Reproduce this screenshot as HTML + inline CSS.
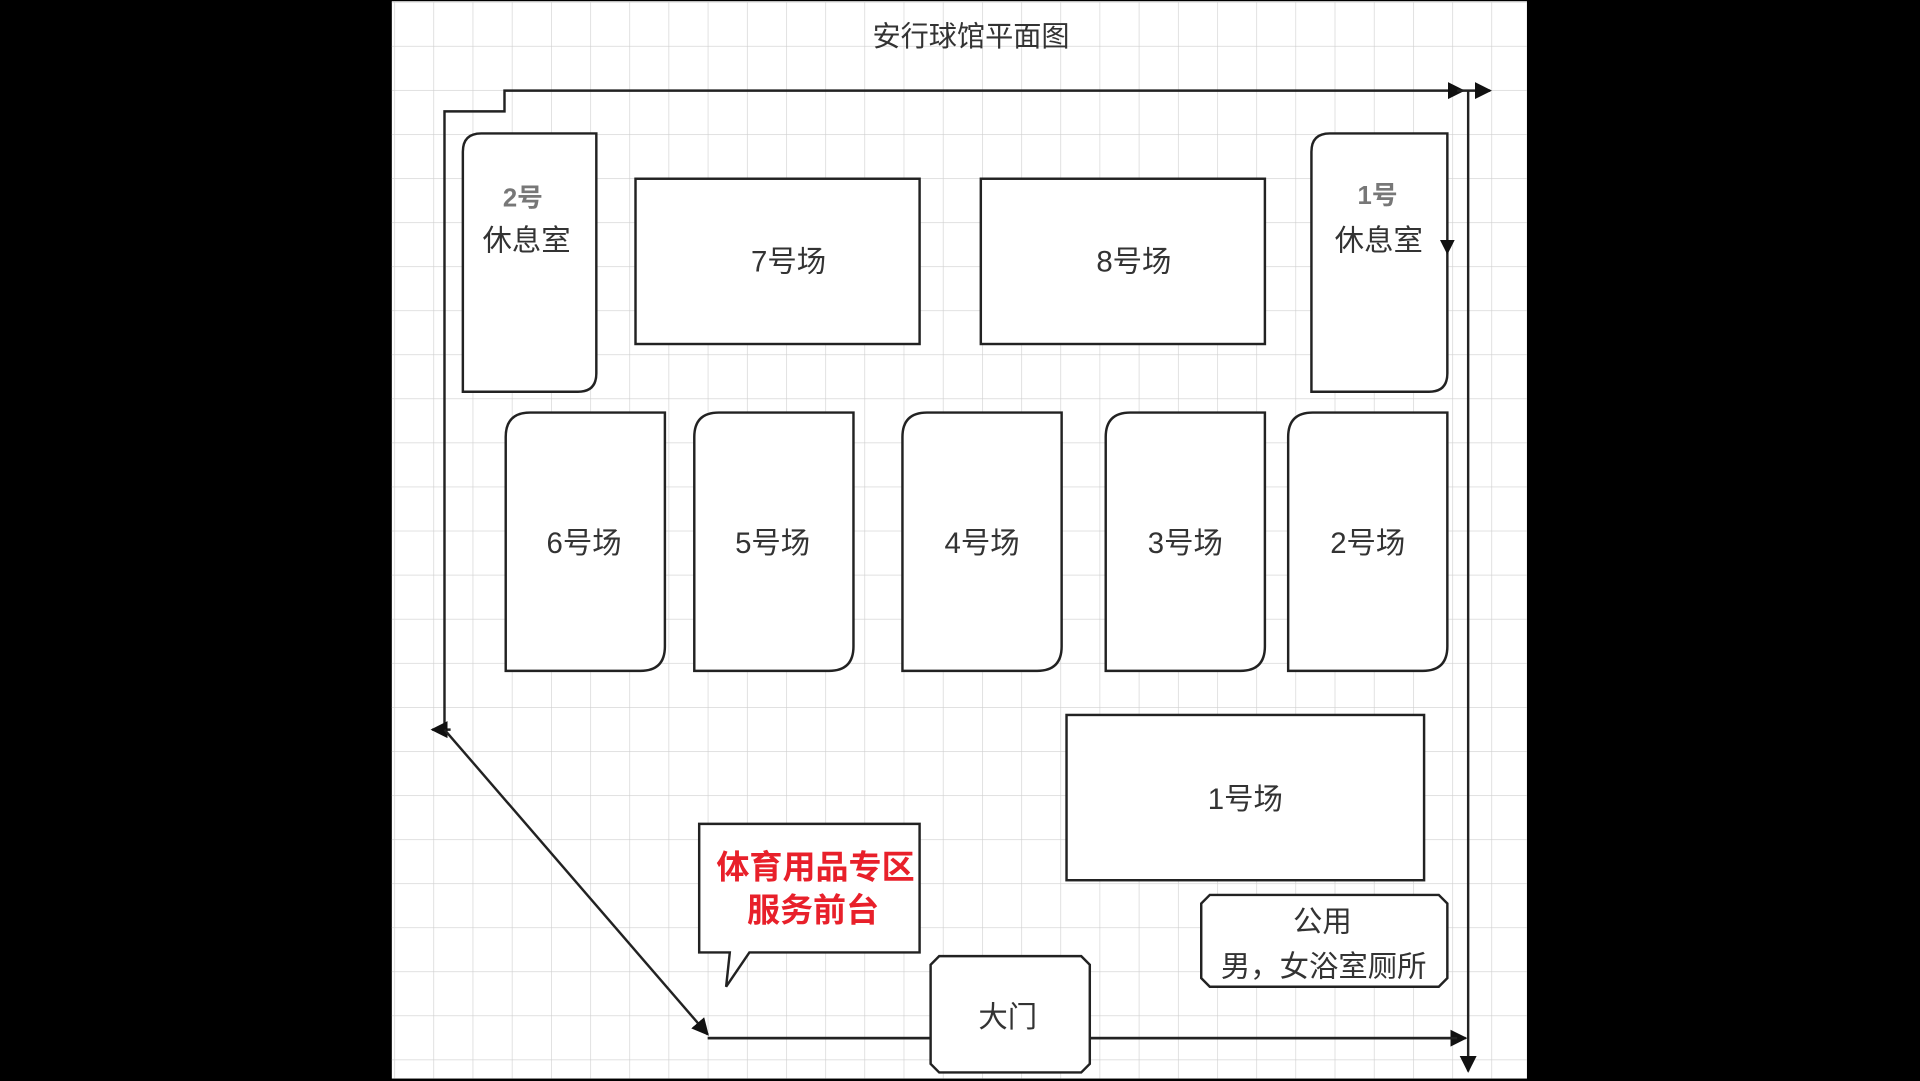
<!DOCTYPE html>
<html><head><meta charset="utf-8"><style>
html,body{margin:0;padding:0;background:#000;width:1920px;height:1081px;overflow:hidden}
svg{display:block}
text{font-family:"Liberation Sans","Noto Sans CJK SC",sans-serif;fill:#333;text-anchor:middle;dominant-baseline:central}
</style></head><body>
<svg width="1920" height="1081" viewBox="0 0 1568 883" preserveAspectRatio="none" xmlns="http://www.w3.org/2000/svg">
<defs>
<pattern id="g" x="2" y="1.5" width="32" height="36" patternUnits="userSpaceOnUse">
<path d="M0 0V36M0 0H32" stroke="#cfcfcf" stroke-width="1" fill="none"/>
</pattern>
<marker id="a" viewBox="0 0 10 10" refX="9" refY="5" markerWidth="7" markerHeight="7" orient="auto"><path d="M0 0L10 5L0 10z" fill="#111"/></marker>
</defs>
<rect x="0" y="0" width="1568" height="883" fill="#000"/>
<rect x="320" y="1" width="927" height="880" fill="#fff"/>
<rect x="320" y="1" width="927" height="880" fill="url(#g)"/>
<text x="793" y="30" font-size="23">安行球馆平面图</text>
<g stroke="#222" stroke-width="2" fill="none">
<path d="M363 596V91H412V74H1195" marker-end="url(#a)"/>
<path d="M1190 74H1217" marker-end="url(#a)"/>
<path d="M368 596H353" marker-end="url(#a)"/>
<path d="M363 596L578 845" marker-end="url(#a)"/>
<path d="M578 848H1197" marker-end="url(#a)"/>
<path d="M1199 74V875" marker-end="url(#a)"/>
</g>
<g stroke="#222" stroke-width="2" fill="#fff">
<path d="M393 109H487V305Q487 320 472 320H378V124Q378 109 393 109Z"/>
<rect x="519" y="146" width="232" height="135"/>
<rect x="801" y="146" width="232" height="135"/>
<path d="M1086 109H1182V305Q1182 320 1167 320H1071V124Q1071 109 1086 109Z"/>
<path d="M433 337H543V528Q543 548 523 548H413V357Q413 337 433 337Z"/>
<path d="M587 337H697V528Q697 548 677 548H567V357Q567 337 587 337Z"/>
<path d="M757 337H867V528Q867 548 847 548H737V357Q737 337 757 337Z"/>
<path d="M923 337H1033V528Q1033 548 1013 548H903V357Q903 337 923 337Z"/>
<path d="M1072 337H1182V528Q1182 548 1162 548H1052V357Q1052 337 1072 337Z"/>
<rect x="871" y="584" width="292" height="135"/>
<path d="M988 731H1175L1182 738V799L1175 806H988L981 799V738Z"/>
<path d="M767 781H883L890 788V869L883 876H767L760 869V788Z"/>
<path d="M571 673H751V778H612L593 806L596 778H571Z"/>
</g>
<path d="M578 848H760" stroke="#222" stroke-width="2"/>
<path d="M890 848H1190" stroke="#222" stroke-width="2"/>
<path d="M1176 196H1188L1182 208Z" fill="#111"/>
<text x="427" y="162" font-size="21" font-weight="bold" style="fill:#777">2号</text>
<text x="430" y="197" font-size="24">休息室</text>
<text x="1125" y="160" font-size="21" font-weight="bold" style="fill:#777">1号</text>
<text x="1126" y="197" font-size="24">休息室</text>
<text x="644" y="214" font-size="24">7号场</text>
<text x="926" y="214" font-size="24">8号场</text>
<text x="477" y="444" font-size="24">6号场</text>
<text x="631" y="444" font-size="24">5号场</text>
<text x="802" y="444" font-size="24">4号场</text>
<text x="968" y="444" font-size="24">3号场</text>
<text x="1117" y="444" font-size="24">2号场</text>
<text x="1017" y="653" font-size="24">1号场</text>
<text x="1080" y="753" font-size="24">公用</text>
<text x="1081" y="790" font-size="24">男，女浴室厕所</text>
<text x="823" y="831" font-size="24">大门</text>
<text x="666" y="709" font-size="27" font-weight="bold" style="fill:#e8202a">体育用品专区</text>
<text x="664" y="744" font-size="27" font-weight="bold" style="fill:#e8202a">服务前台</text>
</svg>
</body></html>
